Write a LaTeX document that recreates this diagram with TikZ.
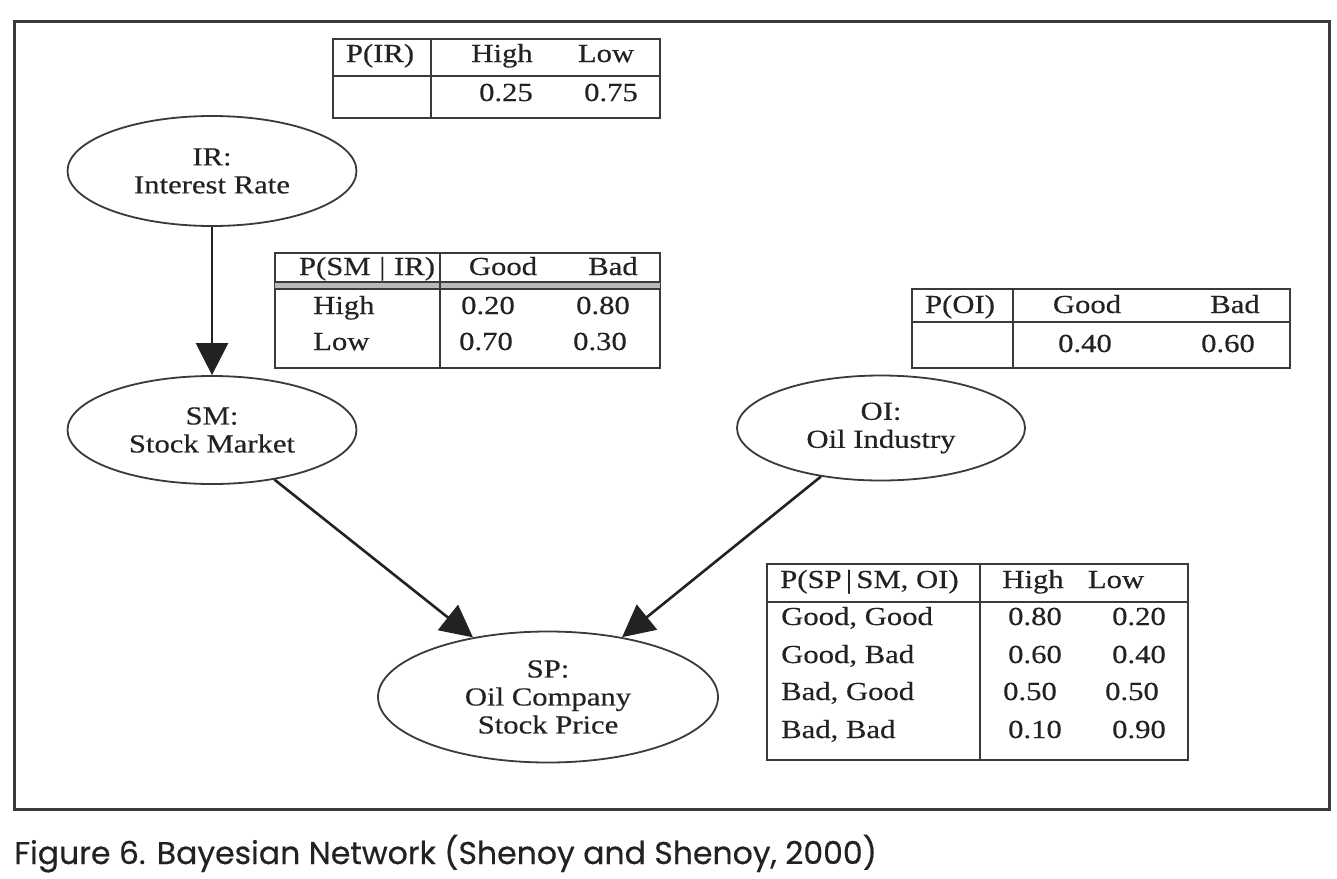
\documentclass[tikz,border=0pt]{standalone}
\usepackage{fontspec}
\setmainfont{Liberation Serif}[FakeStretch=1.18,FakeBold=0.35]
\newfontfamily\capfont{Poppins}[FakeBold=0.4]
\usetikzlibrary{shapes.geometric,arrows.meta}
\definecolor{ink}{HTML}{222222}
\definecolor{rulec}{HTML}{3A3A3A}
\begin{document}
\begin{tikzpicture}[x=1pt,y=-1pt,
  every node/.style={text=ink, font=\fontsize{26}{28}\selectfont},
  var/.style={ellipse, draw=rulec, line width=1.8pt, inner sep=0pt, align=center},
  arr/.style={draw=ink, line width=2.6pt, -{Triangle[length=32pt,width=32pt]}},
  tab/.style={draw=rulec, line width=1.8pt},
  cell/.style={anchor=base, inner sep=0pt},
  lcell/.style={anchor=base west, inner sep=0pt}]

\useasboundingbox (0,0) rectangle (1337,878);
\fill[white] (0,0) rectangle (1337,878);
\draw[line width=3pt, draw=rulec] (14,21) rectangle (1329,809);

% variables
\node[var, minimum width=289pt, minimum height=110pt] (IR) at (212,171) {IR:\\Interest Rate};
\node[var, minimum width=289pt, minimum height=108pt] (SM) at (212,430) {SM:\\Stock Market};
\node[var, minimum width=288pt, minimum height=105pt] (OI) at (881,428) {OI:\\Oil Industry};
\node[var, minimum width=340pt, minimum height=131pt] (SP) at (548,697) {SP:\\Oil Company\\Stock Price};

\draw[arr] (IR) -- (SM);
\draw[arr] (SM) -- (SP);
\draw[arr] (OI) -- (SP);

% P(IR)
\draw[tab] (333,39) rectangle (660,118);
\draw[tab] (431,39) -- (431,118);
\draw[tab] (333,76) -- (660,76);
\node[cell] (irh0) at (380,62) {P(IR)};
\node[cell] (irh1) at (502,62) {High};
\node[cell] (irh2) at (606,62) {Low};
\node[cell] (irv1) at (506,101) {0.25};
\node[cell] (irv2) at (611,101) {0.75};

% P(SM|IR)
\draw[tab] (275,253) rectangle (660,368);
\fill[gray!55] (275,282) rectangle (660,289);
\draw[tab] (275,282) -- (660,282);
\draw[tab] (275,289) -- (660,289);
\draw[tab] (440,253) -- (440,368);
\node[cell] (smh0) at (367,275) {P(SM\,\,|\,\,IR)};
\node[cell] (smh1) at (503,275) {Good};
\node[cell] (smh2) at (613,275) {Bad};
\node[lcell] (smr1) at (313,314) {High};
\node[lcell] (smr2) at (313,350) {Low};
\node[cell] (sm11) at (488,314) {0.20};
\node[cell] (sm12) at (603,314) {0.80};
\node[cell] (sm21) at (486,350) {0.70};
\node[cell] (sm22) at (600,350) {0.30};

% P(OI)
\draw[tab] (912,289) rectangle (1290,368);
\draw[tab] (1013,289) -- (1013,368);
\draw[tab] (912,322) -- (1290,322);
\node[cell] (oih0) at (960,313) {P(OI)};
\node[cell] (oih1) at (1087,313) {Good};
\node[cell] (oih2) at (1235,313) {Bad};
\node[cell] (oiv1) at (1085,352) {0.40};
\node[cell] (oiv2) at (1228,352) {0.60};

% P(SP|SM,OI)
\draw[tab] (767,564) rectangle (1188,760);
\draw[tab] (980,564) -- (980,760);
\draw[tab] (767,602) -- (1188,602);
\node[lcell] (sph0) at (780,588) {P(SP\,|\,SM, OI)};
\node[cell] (sph1) at (1033,588) {High};
\node[cell] (sph2) at (1116,588) {Low};
\node[lcell] (spr1) at (781,625) {Good, Good};
\node[lcell] (spr2) at (781,663) {Good, Bad};
\node[lcell] (spr3) at (781,700) {Bad, Good};
\node[lcell] (spr4) at (781,738) {Bad, Bad};
\node[cell] (sp11) at (1035,625) {0.80};
\node[cell] (sp12) at (1139,625) {0.20};
\node[cell] (sp21) at (1035,663) {0.60};
\node[cell] (sp22) at (1139,663) {0.40};
\node[cell] (sp31) at (1030,700) {0.50};
\node[cell] (sp32) at (1132,700) {0.50};
\node[cell] (sp41) at (1035,738) {0.10};
\node[cell] (sp42) at (1139,738) {0.90};

% caption
\node[anchor=base west, inner sep=0pt, font=\capfont\fontsize{31.5}{33}\selectfont] (cap) at (14,864) {Figure 6. Bayesian Network (Shenoy and Shenoy, 2000)};
\end{tikzpicture}
\end{document}
